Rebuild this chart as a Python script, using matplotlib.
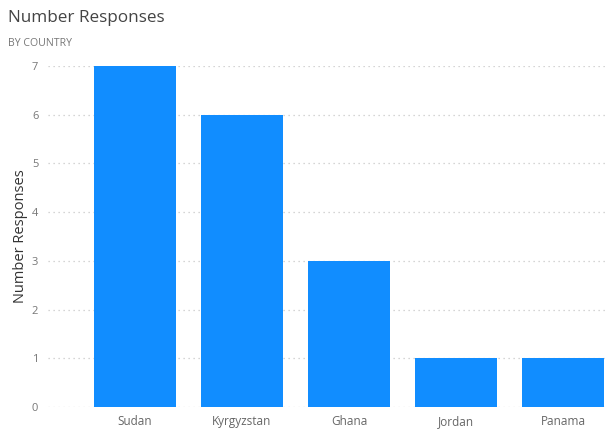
import matplotlib
matplotlib.use("Agg")
import matplotlib.pyplot as plt

countries = ["Sudan", "Kyrgyzstan", "Ghana", "Jordan", "Panama"]
responses = [7, 6, 3, 1, 1]
yticks = [0, 1, 2, 3, 4, 5, 6, 7]

plt.rcParams['font.family'] = ['Open Sans', 'DejaVu Sans']

fig = plt.figure(figsize=(6.05, 4.30), dpi=100)
ax = fig.add_axes([48/605, 1-407/430, 1-48/605, (407-66)/430])

x = list(range(len(countries)))
ax.bar(x, responses, width=0.77, color="#118DFF", zorder=3)
ax.set_xlim(-0.81, 4.39)
ax.set_ylim(0, 7)
ax.set_xticks(x)
ax.set_xticklabels(countries, fontsize=8.5, color="#666666")
ax.set_yticks(yticks)
ax.set_yticklabels([str(v) for v in yticks], fontsize=8, color="#777777")
ax.tick_params(axis='both', length=0, pad=7)
ax.tick_params(axis='x', pad=6)
for s in ax.spines.values():
    s.set_visible(False)
ax.grid(axis='y', linestyle=(0, (1, 3)), color="#c8c8c8", linewidth=0.9, zorder=0)
ax.set_ylabel("Number Responses", fontsize=10.5, color="#333333", labelpad=3)

fig.text(8/605, 1-18/430, "Number Responses", fontsize=12.3, color="#444444", va='center', ha='left')
fig.text(8/605, 1-43/430, "B Y   C O U N T R Y".replace("   ", "\u2009\u2009").replace(" ", "\u2009") if False else "BY COUNTRY",
         fontsize=7.6, color="#777777", va='center', ha='left')

fig.savefig("out.png", dpi=100)
